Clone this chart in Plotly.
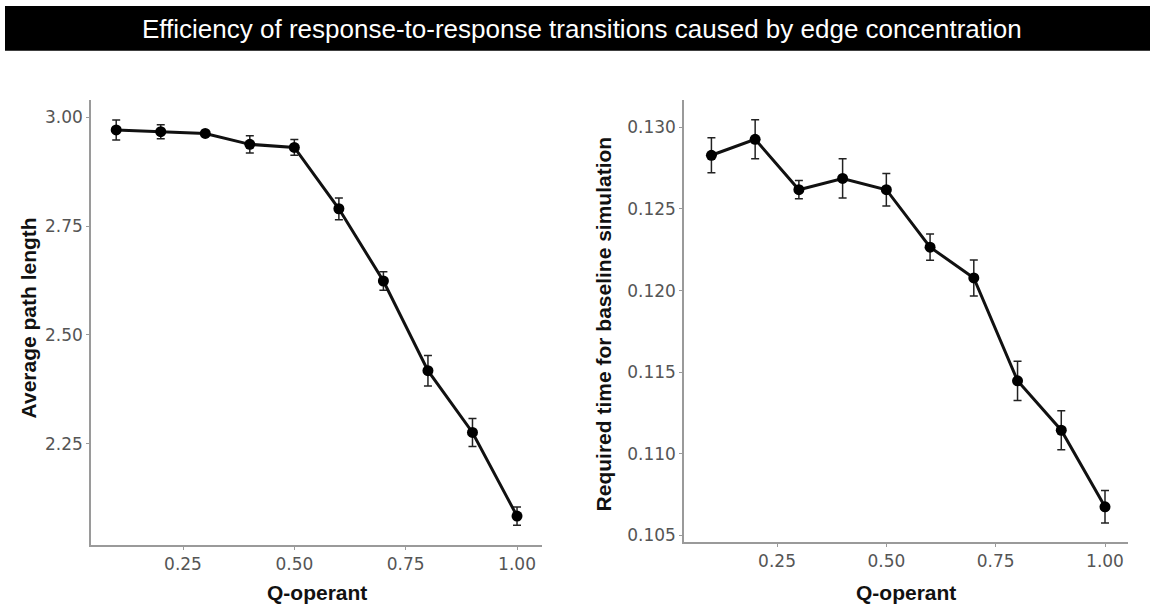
import plotly.graph_objects as go

q_operant = [0.1, 0.2, 0.3, 0.4, 0.5, 0.6, 0.7, 0.8, 0.9, 1.0]
path_length = [2.971, 2.967, 2.963, 2.938, 2.931, 2.790, 2.624, 2.418, 2.276, 2.084]
path_length_err = [0.023, 0.016, 0.005, 0.020, 0.018, 0.025, 0.021, 0.035, 0.032, 0.021]
req_time = [0.12829, 0.12927, 0.12618, 0.12687, 0.12618, 0.12266, 0.12077, 0.11447, 0.11144, 0.10675]
req_time_err = [0.00107, 0.0012, 0.00056, 0.0012, 0.001, 0.0008, 0.0011, 0.0012, 0.0012, 0.001]

title_text = "Efficiency of response-to-response transitions caused by edge concentration"
x_title = "Q-operant"
y_title_left = "Average path length"
y_title_right = "Required time for baseline simulation"

W, H = 1150, 607

fig = go.Figure()

def add_series(x, y, err, xa, ya):
    fig.add_trace(go.Scatter(
        x=x, y=y, mode="lines+markers",
        line=dict(color="#111111", width=3),
        marker=dict(color="#000000", size=11),
        error_y=dict(type="data", array=err, visible=True, color="#222222",
                     thickness=1.5, width=4),
        xaxis=xa, yaxis=ya, showlegend=False, hoverinfo="x+y"))

add_series(q_operant, path_length, path_length_err, "x", "y")
add_series(q_operant, req_time, req_time_err, "x2", "y2")

tickfont = dict(family="DejaVu Sans", size=17, color="#555555")
axis_common = dict(showgrid=False, zeroline=False, showline=True, linecolor="#9a9a9a",
                   linewidth=1.5, ticks="outside", ticklen=3, tickcolor="#9a9a9a",
                   tickfont=tickfont, mirror=False)

fig.update_layout(
    width=W, height=H,
    margin=dict(l=0, r=0, t=0, b=0),
    paper_bgcolor="white", plot_bgcolor="white",
    xaxis=dict(domain=[91 / W, 542 / W], range=[0.0434, 1.0561],
               tickvals=[0.25, 0.5, 0.75, 1.0], ticktext=["0.25", "0.50", "0.75", "1.00"],
               anchor="y", **axis_common),
    yaxis=dict(domain=[1 - 548 / H, 1 - 100 / H], range=[2.0168, 3.041],
               tickvals=[2.25, 2.5, 2.75, 3.0], ticktext=["2.25", "2.50", "2.75", "3.00"],
               anchor="x", **axis_common),
    xaxis2=dict(domain=[684 / W, 1128 / W], range=[0.0373, 1.0526],
                tickvals=[0.25, 0.5, 0.75, 1.0], ticktext=["0.25", "0.50", "0.75", "1.00"],
                anchor="y2", **axis_common),
    yaxis2=dict(domain=[1 - 545 / H, 1 - 100 / H], range=[0.104573, 0.131707],
                tickvals=[0.105, 0.110, 0.115, 0.120, 0.125, 0.130],
                ticktext=["0.105", "0.110", "0.115", "0.120", "0.125", "0.130"],
                anchor="x2", **axis_common),
)

# title bar
fig.add_shape(type="rect", xref="paper", yref="paper",
              x0=5 / W, x1=1.0, y0=1 - 51 / H, y1=1 - 6 / H,
              fillcolor="black", line=dict(width=0), layer="below")

title_font = dict(family="Liberation Sans, Arial", size=26, color="white")
axis_title_font = dict(family="Liberation Sans, Arial", size=21, color="#111111")

annotations = [
    dict(text=title_text, x=582 / W, y=1 - 29 / H, font=title_font),
    dict(text="<b>" + x_title + "</b>", x=316.5 / W, y=1 - 595 / H, font=axis_title_font),
    dict(text="<b>" + x_title + "</b>", x=906 / W, y=1 - 595 / H, font=axis_title_font),
    dict(text="<b>" + y_title_left + "</b>", x=28 / W, y=1 - 320 / H, font=axis_title_font,
         textangle=-90),
    dict(text="<b>" + y_title_right + "</b>", x=603 / W, y=1 - 326 / H, font=axis_title_font,
         textangle=-90),
]
for a in annotations:
    fig.add_annotation(xref="paper", yref="paper", showarrow=False,
                       xanchor="center", yanchor="middle", **a)

fig.write_html("out.html")
